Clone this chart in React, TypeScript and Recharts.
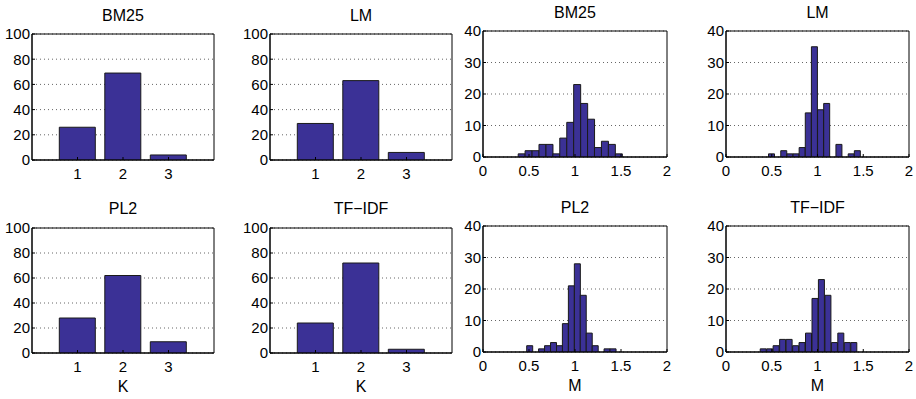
import React from 'react';
import { BarChart, Bar, XAxis, YAxis, CartesianGrid, ReferenceArea } from 'recharts';

// K panels: share of queries per K
const kValues = [1, 2, 3];
const kTicks = [1, 2, 3];
const kYTicks = [0, 20, 40, 60, 80, 100];
const bm25K = [26, 69, 4];
const lmK = [29, 63, 6];
const pl2K = [28, 62, 9];
const tfidfK = [24, 72, 3];

// M panels: histogram bin centres and counts
const mTicks = [0, 0.5, 1, 1.5, 2];
const mYTicks = [0, 10, 20, 30, 40];
const bm25MBins = [0.42, 0.495, 0.571, 0.646, 0.722, 0.797, 0.872, 0.948, 1.023, 1.099, 1.174, 1.249, 1.325, 1.4, 1.476];
const bm25M = [1, 2, 2, 4, 4, 1, 6, 11, 23, 17, 12, 3, 5, 4, 1];
const lmMBins = [0.498, 0.565, 0.632, 0.699, 0.766, 0.833, 0.9, 0.967, 1.034, 1.101, 1.168, 1.235, 1.302, 1.369, 1.436];
const lmM = [1, 0, 2, 1, 1, 3, 14, 35, 15, 17, 0, 4, 0, 1, 2];
const pl2MBins = [0.507, 0.572, 0.636, 0.701, 0.766, 0.831, 0.895, 0.96, 1.025, 1.089, 1.154, 1.219, 1.283, 1.348, 1.413];
const pl2M = [2, 0, 1, 2, 3, 2, 9, 21, 28, 18, 6, 2, 0, 1, 1];
const tfidfMBins = [0.409, 0.48, 0.55, 0.621, 0.692, 0.763, 0.833, 0.904, 0.975, 1.045, 1.116, 1.187, 1.257, 1.328, 1.399];
const tfidfM = [1, 1, 2, 4, 4, 2, 3, 6, 17, 23, 18, 3, 6, 3, 3];

const FONT = '"Liberation Sans", Arial, Helvetica, sans-serif';
const BAR_FILL = '#3b3196';

type Box = { x0: number; x1: number; y0: number; y1: number };

type PanelProps = {
  box: Box;
  xs: number[];
  ys: number[];
  xDomain: [number, number];
  xTicks: number[];
  yDomain: [number, number];
  yTicks: number[];
  gap: string | number;
};

function Panel({ box, xs, ys, xDomain, xTicks, yDomain, yTicks, gap }: PanelProps) {
  const YW = 40;
  const TOP = 10;
  const RIGHT = 14;
  const XH = 30;
  const data = xs.map((x, i) => ({ x, y: ys[i] }));
  const width = box.x1 - box.x0 + YW + RIGHT;
  const height = box.y1 - box.y0 + TOP + XH;
  const tickStyle = { fill: '#000', fontSize: 15, fontFamily: FONT };

  return (
    <div style={{ position: 'absolute', left: box.x0 - YW, top: box.y0 - TOP }}>
      <BarChart
        width={width}
        height={height}
        data={data}
        margin={{ top: TOP, right: RIGHT, bottom: 0, left: 0 }}
        barCategoryGap={gap}
      >
        <CartesianGrid vertical={false} stroke="#666" strokeDasharray="1 3" />
        <XAxis
          dataKey="x"
          type="number"
          domain={xDomain}
          ticks={xTicks}
          interval={0}
          height={XH}
          allowDataOverflow
          axisLine={{ stroke: '#000' }}
          tickLine={{ stroke: '#000' }}
          tickSize={-3}
          tickMargin={11}
          tick={tickStyle}
        />
        <YAxis
          type="number"
          domain={yDomain}
          ticks={yTicks}
          interval={0}
          width={YW}
          allowDataOverflow
          axisLine={{ stroke: '#000' }}
          tickLine={{ stroke: '#000' }}
          tickSize={-3}
          tickMargin={5}
          tick={tickStyle}
        />
        <Bar dataKey="y" fill={BAR_FILL} stroke="#1a1a1a" strokeWidth={1} isAnimationActive={false} />
        <ReferenceArea
          x1={xDomain[0]}
          x2={xDomain[1]}
          y1={yDomain[0]}
          y2={yDomain[1]}
          stroke="#000"
          strokeWidth={1}
          fill="none"
          fillOpacity={0}
          ifOverflow="visible"
        />
      </BarChart>
    </div>
  );
}

const K1: Box = { x0: 32, x1: 214, y0: 34, y1: 160 };
const K2: Box = { x0: 270, x1: 452, y0: 34, y1: 160 };
const M1: Box = { x0: 483, x1: 667, y0: 31, y1: 157 };
const M2: Box = { x0: 726, x1: 909, y0: 31, y1: 157 };
const K3: Box = { x0: 32, x1: 214, y0: 228, y1: 353 };
const K4: Box = { x0: 270, x1: 452, y0: 228, y1: 353 };
const M3: Box = { x0: 483, x1: 667, y0: 226, y1: 352 };
const M4: Box = { x0: 726, x1: 909, y0: 226, y1: 352 };

const mid = (b: Box) => (b.x0 + b.x1) / 2;

export default function App() {
  const kProps = { xDomain: [0, 4] as [number, number], xTicks: kTicks, yDomain: [0, 100] as [number, number], yTicks: kYTicks, gap: '10%' };
  const mProps = { xDomain: [0, 2] as [number, number], xTicks: mTicks, yDomain: [0, 40] as [number, number], yTicks: mYTicks, gap: 0 };

  const titles = [
    { text: 'BM25', x: mid(K1), y: 20.5 },
    { text: 'LM', x: mid(K2), y: 20.5 },
    { text: 'BM25', x: mid(M1), y: 17.5 },
    { text: 'LM', x: mid(M2), y: 17.5 },
    { text: 'PL2', x: mid(K3), y: 214 },
    { text: 'TF\u2212IDF', x: mid(K4), y: 214 },
    { text: 'PL2', x: mid(M3), y: 213 },
    { text: 'TF\u2212IDF', x: mid(M4), y: 213 },
  ];
  const xLabels = [
    { text: 'K', x: mid(K3), y: 392 },
    { text: 'K', x: mid(K4), y: 392 },
    { text: 'M', x: mid(M3), y: 391 },
    { text: 'M', x: mid(M4), y: 391 },
  ];

  return (
    <div style={{ position: 'absolute', left: 0, top: 0, width: 916, height: 399, background: '#fff', fontFamily: FONT }}>
      <Panel box={K1} xs={kValues} ys={bm25K} {...kProps} />
      <Panel box={K2} xs={kValues} ys={lmK} {...kProps} />
      <Panel box={M1} xs={bm25MBins} ys={bm25M} {...mProps} />
      <Panel box={M2} xs={lmMBins} ys={lmM} {...mProps} />
      <Panel box={K3} xs={kValues} ys={pl2K} {...kProps} />
      <Panel box={K4} xs={kValues} ys={tfidfK} {...kProps} />
      <Panel box={M3} xs={pl2MBins} ys={pl2M} {...mProps} />
      <Panel box={M4} xs={tfidfMBins} ys={tfidfM} {...mProps} />
      <svg width={916} height={399} style={{ position: 'absolute', left: 0, top: 0, pointerEvents: 'none' }}>
        {titles.map((t, i) => (
          <text key={i} x={t.x} y={t.y} textAnchor="middle" fontSize={16} fontFamily={FONT} fill="#000">
            {t.text}
          </text>
        ))}
        {xLabels.map((t, i) => (
          <text key={i} x={t.x} y={t.y} textAnchor="middle" fontSize={16} fontFamily={FONT} fill="#000">
            {t.text}
          </text>
        ))}
      </svg>
    </div>
  );
}
